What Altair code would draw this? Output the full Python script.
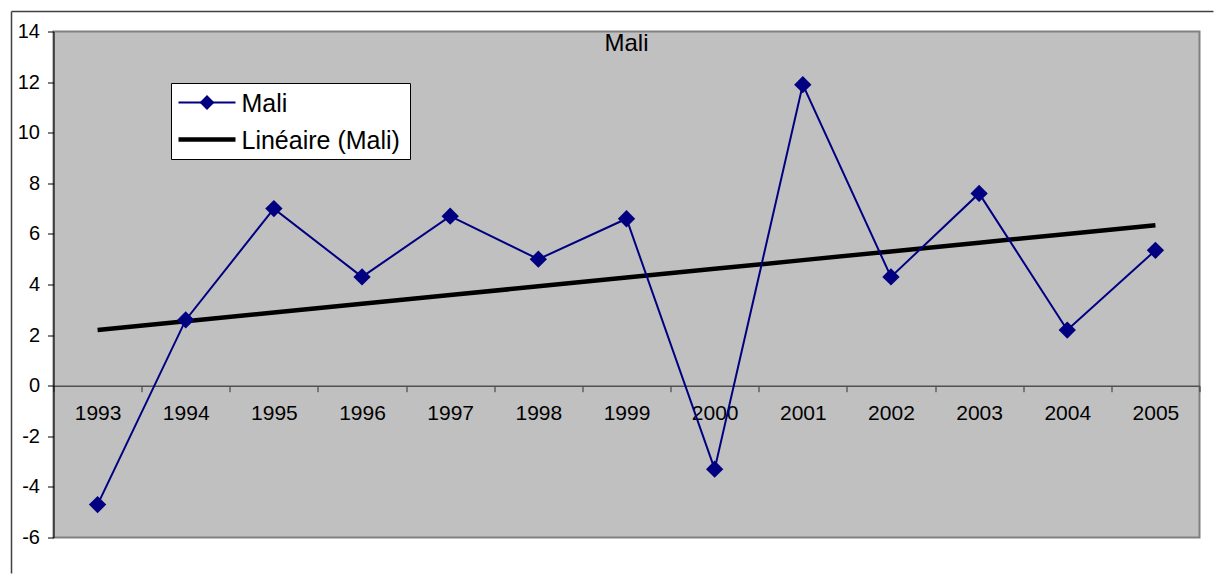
import altair as alt
import pandas as pd
import numpy as np

# ---- data ----
years = ["1993", "1994", "1995", "1996", "1997", "1998", "1999",
         "2000", "2001", "2002", "2003", "2004", "2005"]
mali = [-4.7, 2.6, 7.0, 4.3, 6.7, 5.0, 6.6, -3.3, 11.9, 4.3, 7.6, 2.2, 5.35]
legend_labels = ["Mali", "Linéaire (Mali)"]
title_text = "Mali"
y_ticks = [-6, -4, -2, 0, 2, 4, 6, 8, 10, 12, 14]

W, H = 1146, 506
Y_MIN, Y_MAX = -6, 14
FONT = "Liberation Sans"
NAVY = "#000080"

# linear trend (Excel "Linéaire") computed from the series
idx = np.arange(len(years))
coef = np.polyfit(idx, mali, 1)
trend = np.polyval(coef, idx)

df = pd.DataFrame({"year": years, "value": mali, "trend": trend})
one = pd.DataFrame({"k": [0]})

x_scale = alt.Scale(type="band", domain=years, paddingInner=0, paddingOuter=0)
y_scale = alt.Scale(domain=[Y_MIN, Y_MAX], nice=False, zero=False)
zero_offset = -(0 - Y_MIN) / (Y_MAX - Y_MIN) * H

x_axis = alt.Axis(title=None, offset=zero_offset, labelAngle=0, tickBand="extent",
                  domainColor="#505050", domainWidth=1.5, tickColor="#303030",
                  tickSize=6, tickWidth=1, labelFontSize=21, labelPadding=11,
                  labelColor="black", labelFont=FONT, grid=False)
y_axis = alt.Axis(title=None, values=y_ticks, grid=False, domainColor="black",
                  domainWidth=1, tickColor="black", tickSize=6, labelFontSize=20,
                  labelPadding=8, labelFont=FONT, labelColor="black",
                  labelExpr="datum.value")

X = alt.X("year:N", scale=x_scale, axis=x_axis, sort=years)

trend_line = alt.Chart(df).mark_line(color="black", strokeWidth=4.5).encode(
    x=X, y=alt.Y("trend:Q", scale=y_scale, axis=y_axis))
series_line = alt.Chart(df).mark_line(color=NAVY, strokeWidth=2).encode(
    x=X, y=alt.Y("value:Q", scale=y_scale, axis=y_axis))
series_pts = alt.Chart(df).mark_point(shape="diamond", filled=True, size=300,
                                      color=NAVY, opacity=1).encode(
    x=X, y=alt.Y("value:Q", scale=y_scale, axis=y_axis))

title = alt.Chart(one).mark_text(fontSize=24, font=FONT, color="black",
                                 baseline="middle", align="center").encode(
    x=alt.value(W / 2), y=alt.value(12), text=alt.value(title_text))

# legend (drawn inside the plot area as in the reference)
leg_box = alt.Chart(one).mark_rect(fill="white", stroke="black", strokeWidth=1).encode(
    x=alt.value(118), x2=alt.value(357), y=alt.value(52), y2=alt.value(128))
leg_l1 = alt.Chart(one).mark_rule(color=NAVY, strokeWidth=2).encode(
    x=alt.value(125), x2=alt.value(182), y=alt.value(71))
leg_d1 = alt.Chart(one).mark_point(shape="diamond", filled=True, size=220,
                                   color=NAVY, opacity=1).encode(
    x=alt.value(153.5), y=alt.value(71))
leg_l2 = alt.Chart(one).mark_rule(color="black", strokeWidth=4.5).encode(
    x=alt.value(125), x2=alt.value(182), y=alt.value(108))
leg_t1 = alt.Chart(one).mark_text(fontSize=25, font=FONT, color="black",
                                  align="left", baseline="middle").encode(
    x=alt.value(188), y=alt.value(72), text=alt.value(legend_labels[0]))
leg_t2 = alt.Chart(one).mark_text(fontSize=25, font=FONT, color="black",
                                  align="left", baseline="middle").encode(
    x=alt.value(188), y=alt.value(109), text=alt.value(legend_labels[1]))

# outer chart frame (left and top edges visible in the reference)
frame_left = alt.Chart(one).mark_rule(color="#404040", strokeWidth=1.5).encode(
    x=alt.value(-42), y=alt.value(-20), y2=alt.value(542))
frame_top = alt.Chart(one).mark_rule(color="#404040", strokeWidth=1.5).encode(
    x=alt.value(-42), x2=alt.value(1160), y=alt.value(-20))

chart = alt.layer(
    trend_line, series_line, series_pts, title,
    leg_box, leg_l1, leg_d1, leg_l2, leg_t1, leg_t2,
    frame_left, frame_top,
).properties(
    width=W, height=H,
    padding={"left": 2.5, "top": 2.5, "right": 0, "bottom": 0},
    background="white",
).configure_view(
    fill="#C0C0C0", stroke="#808080", strokeWidth=2
)

chart.save("out.html", embed_options={"renderer": "svg", "actions": False})
